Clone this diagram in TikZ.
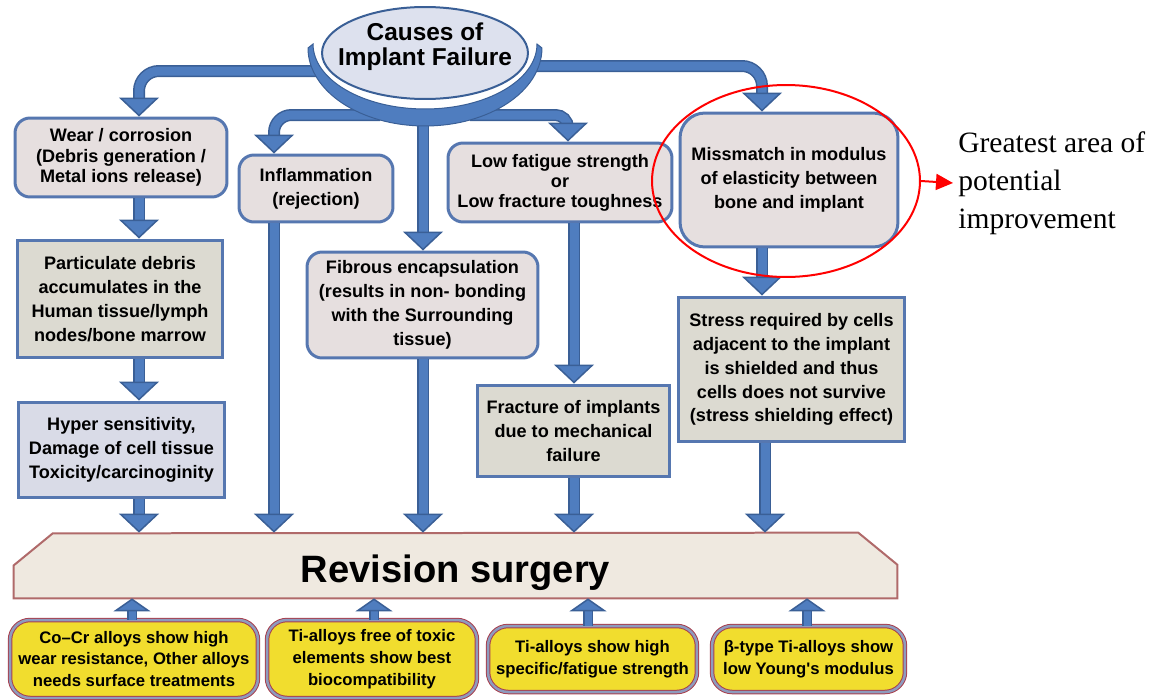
\documentclass[tikz,border=0pt]{standalone}
\usepackage{fontspec}
\setsansfont{Liberation Sans}
\newfontfamily\timesf{Liberation Serif}
\usetikzlibrary{arrows.meta,shapes.geometric,backgrounds,calc}
\definecolor{ablue}{HTML}{4F7DBF}
\definecolor{adark}{HTML}{3A5F96}
\definecolor{bborder}{HTML}{5677B0}
\definecolor{pinkfill}{HTML}{E6DFDF}
\definecolor{beigefill}{HTML}{DCDAD1}
\definecolor{bluefill}{HTML}{D9DBE7}
\definecolor{ellfill}{HTML}{DDE1EE}
\definecolor{revfill}{HTML}{EFE9E0}
\definecolor{revborder}{HTML}{B06A6A}
\definecolor{yfill}{HTML}{F1DD2E}
\definecolor{yborder}{HTML}{A8404E}
\definecolor{yband}{HTML}{8E9BBE}
\tikzset{
  txt/.style={font=\sffamily\bfseries\fontsize{10.3}{13.6}\selectfont, align=center, text=black},
  rbox/.style={txt, draw=bborder, line width=0.06cm, fill=pinkfill, rounded corners=0.3cm, inner sep=0pt},
  sbox/.style={txt, draw=bborder, line width=0.06cm, fill=beigefill, inner sep=0pt},
  ybox/.style={font=\sffamily\bfseries\fontsize{9.5}{12.5}\selectfont, align=center, fill=yfill, draw=yborder, double=yband, double distance=0.05cm, line width=0.02cm, rounded corners=0.4cm, inner sep=0pt},
  conn/.style={draw=ablue, line width=0.18cm, -{Triangle[width=0.8cm,length=0.38cm,fill=ablue,color=adark,line width=0.03cm]}, preaction={draw=adark, line width=0.24cm, arrows=-, shorten >=0.3cm}},
  upconn/.style={draw=ablue, line width=0.14cm, -{Triangle[width=0.74cm,length=0.26cm,fill=ablue,color=adark,line width=0.03cm]}, preaction={draw=adark, line width=0.19cm, arrows=-, shorten >=0.2cm}},
  titletext/.style={font=\sffamily\bfseries\fontsize{13.9}{14.2}\selectfont, align=center, inner sep=0pt},
}
\begin{document}
\begin{tikzpicture}[x=0.02cm,y=0.02cm]
\useasboundingbox (0,0) rectangle (1157,-700);

% boxes
\node[rbox, minimum width=4.24cm, minimum height=1.58cm, font=\sffamily\bfseries\fontsize{10.3}{11.6}\selectfont] (wear) at (121,-157.5) {Wear / corrosion\\(Debris generation /\\Metal ions release)};
\node[rbox, minimum width=3.08cm, minimum height=1.34cm] (infl) at (316,-188.5) {Inflammation\\(rejection)};
\node[rbox, minimum width=4.48cm, minimum height=1.58cm, font=\sffamily\bfseries\fontsize{10.3}{11.4}\selectfont] (lowf) at (560,-182.5) {Low fatigue strength\\or\\Low fracture toughness};
\node[rbox, rounded corners=0.5cm, minimum width=4.36cm, minimum height=2.68cm] (miss) at (789,-180) {Missmatch in modulus\\of elasticity between\\bone and implant};
\node[sbox, minimum width=4.12cm, minimum height=2.36cm] (part) at (120,-299) {Particulate debris\\accumulates in the\\Human tissue/lymph\\nodes/bone marrow};
\node[rbox, minimum width=4.62cm, minimum height=2.12cm] (fib) at (422.5,-305) {Fibrous encapsulation\\(results in non- bonding\\with the Surrounding\\tissue)};
\node[sbox, fill=bluefill, minimum width=4.14cm, minimum height=1.92cm] (hyper) at (121.5,-450) {Hyper sensitivity,\\Damage of cell tissue\\Toxicity/carcinoginity};
\node[sbox, minimum width=3.86cm, minimum height=1.84cm] (frac) at (573.5,-431) {Fracture of implants\\due to mechanical\\failure};
\node[sbox, minimum width=4.54cm, minimum height=2.9cm] (stress) at (791.5,-369.5) {Stress required by cells\\adjacent to the implant\\is shielded and thus\\cells does not survive\\(stress shielding effect)};

% revision surgery
\node[minimum width=17.66cm, minimum height=1.3cm, inner sep=0pt, text height=19.8pt, text depth=0pt, font=\sffamily\bfseries\fontsize{21.7}{24}\selectfont] (rev) at (455.5,-565.5) {Revision surgery};
\begin{scope}[on background layer]
\draw[fill=revfill, draw=revborder, line width=0.04cm] (rev.south west) -- ++(0,33) -- ++(39,32) -- ([xshift=-0.78cm]rev.north east) -- ++(39,-32) -- (rev.south east) -- cycle;
\end{scope}

% yellow boxes
\node[ybox, minimum width=4.96cm, minimum height=1.56cm] (ya) at (134,-659) {Co–Cr alloys show high\\wear resistance, Other alloys\\needs surface treatments};
\node[ybox, minimum width=4.2cm, minimum height=1.56cm] (yb) at (372,-659) {Ti-alloys free of toxic\\elements show best\\biocompatibility};
\node[ybox, minimum width=4.18cm, minimum height=1.32cm] (yc) at (592.5,-659) {Ti-alloys show high\\specific/fatigue strength};
\node[ybox, minimum width=3.86cm, minimum height=1.32cm] (yd) at (808.5,-659) {β-type Ti-alloys show\\low Young\textquotesingle s modulus};

% columns
\coordinate (colA) at (139,0);
\coordinate (colB) at (274,0);
\coordinate (colC) at (423,0);
\coordinate (colD) at (568,0);
\coordinate (colDd) at (574,0);
\coordinate (colE) at (762,0);
\coordinate (colEd) at (765,0);
\coordinate (upA) at (132,0);
\coordinate (upB) at (374,0);
\coordinate (upC) at (588,0);
\coordinate (upD) at (807,0);

% vertical connectors
\draw[conn] (wear.south -| colA) -- (part.north -| colA);
\draw[conn] (part.south -| colA) -- (hyper.north -| colA);
\draw[conn] (hyper.south -| colA) -- (rev.north -| colA);
\draw[conn] (infl.south -| colB) -- (rev.north -| colB);
\draw[conn] (fib.south -| colC) -- (rev.north -| colC);
\draw[conn] (lowf.south -| colDd) -- (frac.north -| colDd);
\draw[conn] (frac.south -| colDd) -- (rev.north -| colDd);
\draw[conn] (miss.south -| colE) -- (stress.north -| colE);
\draw[conn] (stress.south -| colEd) -- (rev.north -| colEd);

\draw[upconn] (ya.north -| upA) -- (rev.south -| upA);
\draw[upconn] (yb.north -| upB) -- (rev.south -| upB);
\draw[upconn] (yc.north -| upC) -- (rev.south -| upC);
\draw[upconn] (yd.north -| upD) -- (rev.south -| upD);

% top connectors
\coordinate (tl1) at (318,-71);
\coordinate (tl2) at (380,-115);
\coordinate (tr1) at (534,-66);
\coordinate (tr2) at (470,-115);
\coordinate (cb) at (423,-120);
\draw[conn, rounded corners=0.4cm] (tl1) -| (wear.north -| colA);
\draw[conn, rounded corners=0.35cm] (tl2) -| (infl.north -| colB);
\draw[conn, rounded corners=0.4cm] (tr1) -| (miss.north -| colE);
\draw[conn, rounded corners=0.25cm] (tr2) -| (lowf.north -| colD);
\draw[conn] (cb) -- (fib.north -| cb);

% crescent and title ellipse
\fill[ablue, draw=adark, line width=0.02cm] (308,-48) arc[start angle=180, end angle=360, x radius=2.34cm, y radius=1.56cm] -- (537,-44) arc[start angle=0, end angle=-180, x radius=2.24cm, y radius=1.3cm] -- cycle;
\node[ellipse, draw=adark, line width=0.04cm, fill=ellfill, minimum width=4.12cm, minimum height=1.84cm, inner sep=0pt] (cause) at (425,-53) {};
\node[titletext] (causetxt) at ([yshift=0.13cm]cause.center) {Causes of\\Implant Failure};

% highlight
\node[draw=red, line width=0.04cm, ellipse, minimum width=5.36cm, minimum height=3.84cm, inner sep=0pt] (focus) at (786,-181) {};
\node[anchor=west, inner sep=0pt, align=left, font=\timesf\fontsize{16.8}{21.5}\selectfont] (great) at (958,-183) {Greatest area of\\potential\\improvement};
\draw[red, line width=0.04cm, -{Triangle[width=0.32cm,length=0.34cm]}] (focus.east) -- ([xshift=-0.1cm]great.west);
\end{tikzpicture}
\end{document}
